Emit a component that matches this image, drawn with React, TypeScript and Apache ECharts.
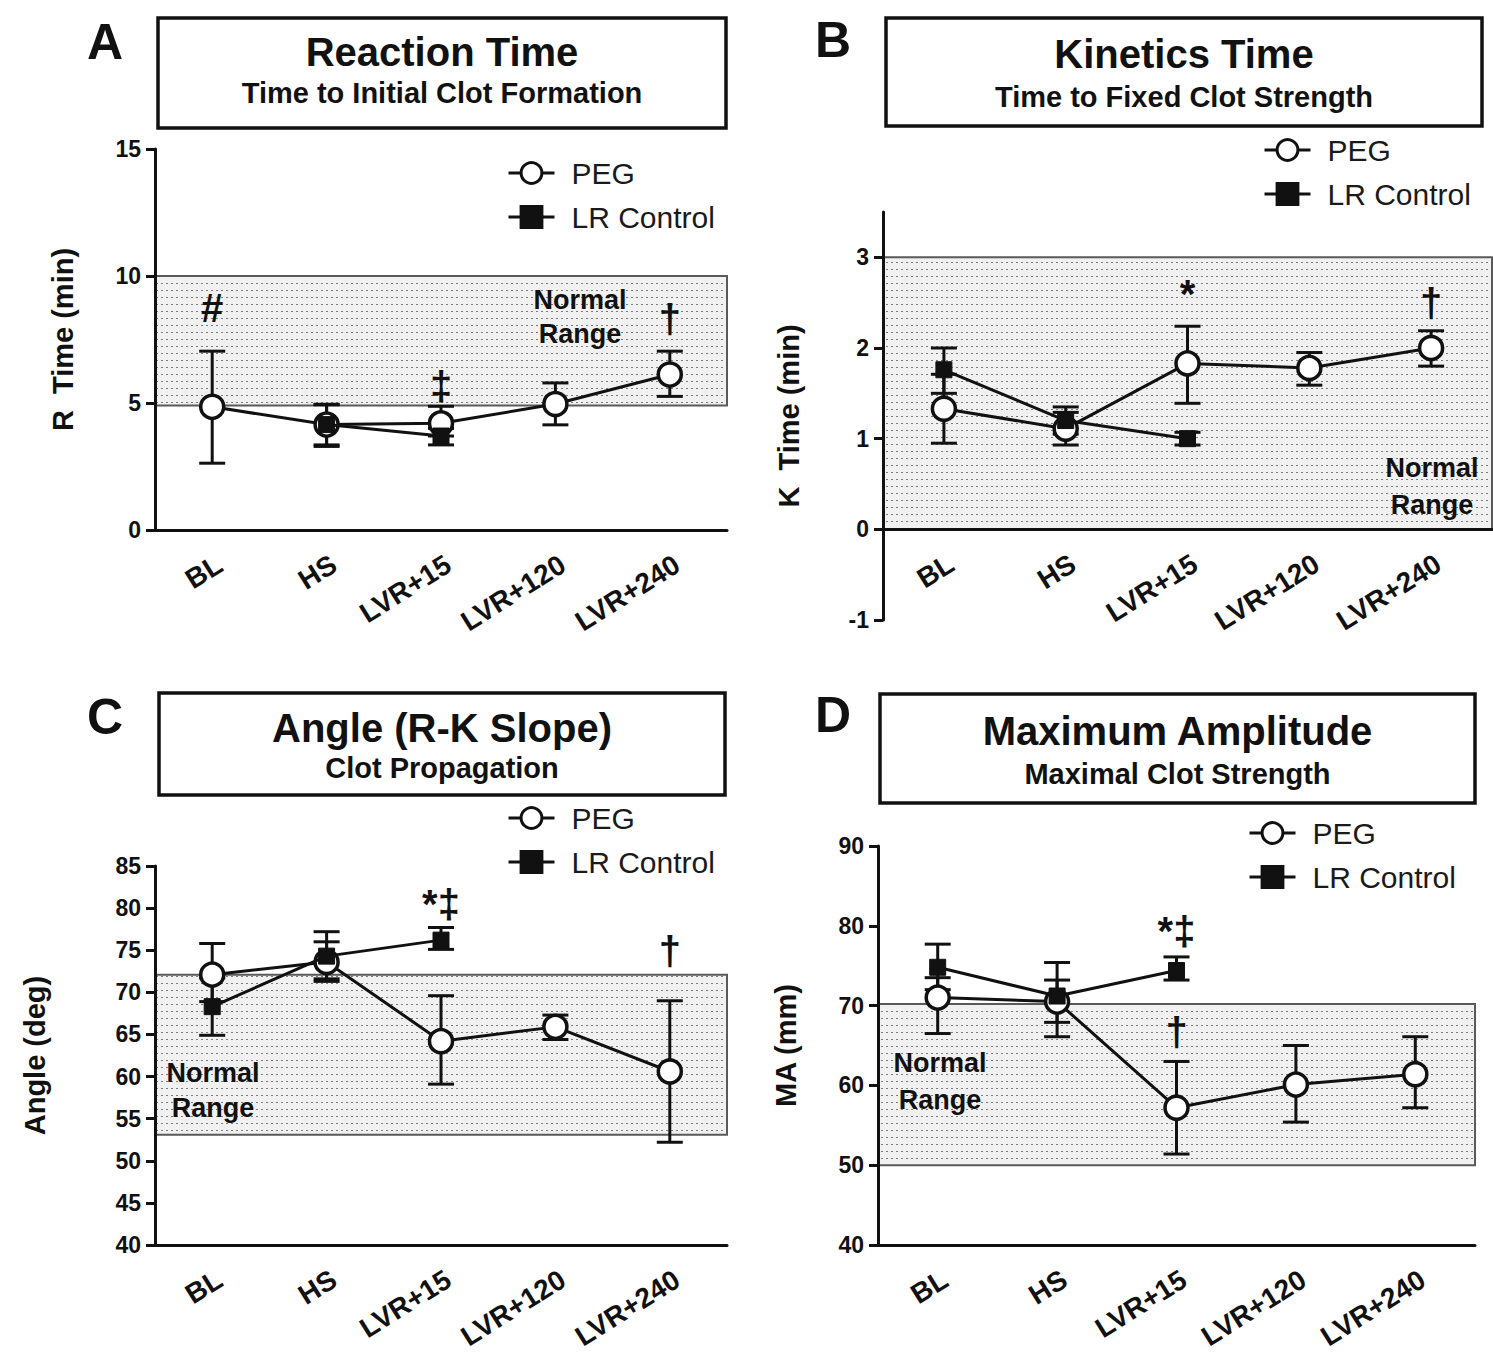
import React, { useEffect, useRef } from 'react';
import * as echarts from 'echarts';

const FONT = '"Liberation Sans", Arial, Helvetica, sans-serif';

const categories = ['BL', 'HS', 'LVR+15', 'LVR+120', 'LVR+240'];

// Panel A: Reaction Time (R, min)
const rPeg = [4.85, 4.15, 4.2, 4.96, 6.12];
const rPegLow = [2.63, 3.29, 3.7, 4.14, 5.26];
const rPegHigh = [7.04, 4.93, 4.87, 5.79, 7.04];
const rLr = [null, 4.15, 3.7, null, null];
const rLrLow = [null, 3.35, 3.35, null, null];
const rLrHigh = [null, 4.95, 4.0, null, null];
const rNormal = [4.9, 10];
const rMarkText = ['#', '‡', '†'];
const rMarkCat = [0, 2, 4];
const rMarkVal = [8.75, 5.66, 8.3];

// Panel B: Kinetics Time (K, min)
const kPeg = [1.33, 1.11, 1.83, 1.78, 2.0];
const kPegLow = [0.95, 0.93, 1.39, 1.59, 1.8];
const kPegHigh = [1.71, 1.29, 2.24, 1.95, 2.19];
const kLr = [1.76, 1.2, 1.0, null, null];
const kLrLow = [1.5, 1.05, 0.93, null, null];
const kLrHigh = [2.0, 1.35, 1.07, null, null];
const kNormal = [0, 3];
const kMarkText = ['*', '†'];
const kMarkCat = [2, 4];
const kMarkVal = [2.6, 2.5];

// Panel C: Angle (deg)
const aPeg = [72.1, 73.6, 64.2, 65.9, 60.6];
const aPegLow = [68.9, 71.3, 59.1, 64.4, 52.2];
const aPegHigh = [75.8, 76.0, 69.6, 67.3, 69.0];
const aLr = [68.3, 74.3, 76.2, null, null];
const aLrLow = [64.9, 71.6, 75.1, null, null];
const aLrHigh = [71.7, 77.2, 77.7, null, null];
const aNormal = [53.1, 72.1];
const aMarkText = ['*‡', '†'];
const aMarkCat = [2, 4];
const aMarkVal = [80.5, 74.9];

// Panel D: Maximum Amplitude (MA, mm)
const mPeg = [71.0, 70.5, 57.2, 60.1, 61.4];
const mPegLow = [66.5, 66.1, 51.4, 55.4, 57.2];
const mPegHigh = [73.5, 73.2, 63.0, 65.0, 66.1];
const mLr = [74.8, 71.2, 74.4, null, null];
const mLrLow = [72.0, 67.9, 73.2, null, null];
const mLrHigh = [77.7, 75.4, 76.1, null, null];
const mNormal = [50.0, 70.2];
const mMarkText = ['*‡', '†'];
const mMarkCat = [2, 2];
const mMarkVal = [79.4, 66.7];

const panelData = [
  { title: 'Reaction Time', sub: 'Time to Initial Clot Formation', letter: 'A', yName: 'R  Time (min)', peg: rPeg, pegLow: rPegLow, pegHigh: rPegHigh, lr: rLr, lrLow: rLrLow, lrHigh: rLrHigh, normal: rNormal, markText: rMarkText, markCat: rMarkCat, markVal: rMarkVal },
  { title: 'Kinetics Time', sub: 'Time to Fixed Clot Strength', letter: 'B', yName: 'K  Time (min)', peg: kPeg, pegLow: kPegLow, pegHigh: kPegHigh, lr: kLr, lrLow: kLrLow, lrHigh: kLrHigh, normal: kNormal, markText: kMarkText, markCat: kMarkCat, markVal: kMarkVal },
  { title: 'Angle (R-K Slope)', sub: 'Clot Propagation', letter: 'C', yName: 'Angle (deg)', peg: aPeg, pegLow: aPegLow, pegHigh: aPegHigh, lr: aLr, lrLow: aLrLow, lrHigh: aLrHigh, normal: aNormal, markText: aMarkText, markCat: aMarkCat, markVal: aMarkVal },
  { title: 'Maximum Amplitude', sub: 'Maximal Clot Strength', letter: 'D', yName: 'MA (mm)', peg: mPeg, pegLow: mPegLow, pegHigh: mPegHigh, lr: mLr, lrLow: mLrLow, lrHigh: mLrHigh, normal: mNormal, markText: mMarkText, markCat: mMarkCat, markVal: mMarkVal },
];

// Layout (pixels) and axis settings
const layouts = [
  { left: 155, top: 149, width: 572, height: 381, yMin: 0, yMax: 15, step: 5, ticks: null as number[] | null, nameGap: 78,
    letterPos: [105, 42], box: [158, 18, 568, 110], titleY: 52, subY: 93, legendPos: [502, 152],
    normalText: [[580, 300], [580, 334]] },
  { left: 883, top: 212, width: 609, height: 408, yMin: -1, yMax: 3.5, step: 1, ticks: [-1, 0, 1, 2, 3], nameGap: 80,
    letterPos: [833, 40], box: [886, 18, 596, 108], titleY: 54, subY: 97, legendPos: [1258, 129],
    normalText: [[1432, 468], [1432, 505]] },
  { left: 155, top: 866, width: 572, height: 379, yMin: 40, yMax: 85, step: 5, ticks: null, nameGap: 106,
    letterPos: [105, 717], box: [159, 693, 566, 102], titleY: 728, subY: 768, legendPos: [502, 797],
    normalText: [[213, 1073], [213, 1108]] },
  { left: 878, top: 846, width: 597, height: 399, yMin: 40, yMax: 90, step: 10, ticks: null, nameGap: 78,
    letterPos: [833, 715], box: [880, 694, 595, 109], titleY: 731, subY: 774, legendPos: [1243, 812],
    normalText: [[940, 1063], [940, 1100]] },
];

function errData(cats: number, low: (number | null)[], high: (number | null)[]) {
  const out: number[][] = [];
  for (let i = 0; i < cats; i++) {
    if (low[i] != null && high[i] != null) out.push([i, low[i] as number, high[i] as number]);
  }
  return out;
}

function makePattern() {
  const c = document.createElement('canvas');
  c.width = 5;
  c.height = 7;
  const ctx = c.getContext('2d');
  if (ctx) {
    ctx.fillStyle = '#f1f1f1';
    ctx.fillRect(0, 0, 5, 7);
    ctx.fillStyle = '#7c7c7c';
    ctx.fillRect(1, 3, 2, 1);
  }
  return { image: c, repeat: 'repeat', imageWidth: 5, imageHeight: 7 } as any;
}

export default function App() {
  const ref = useRef<HTMLDivElement>(null);
  useEffect(() => {
    document.body.style.margin = '0';
    if (!ref.current) return;
    const chart = echarts.init(ref.current, undefined, { renderer: 'svg' });
    const pattern = makePattern();

    const grids: any[] = [];
    const xAxes: any[] = [];
    const yAxes: any[] = [];
    const series: any[] = [];
    const legends: any[] = [];
    const graphics: any[] = [];

    const errRender = (params: any, api: any) => {
      const x = api.value(0);
      const lo = api.coord([x, api.value(1)]);
      const hi = api.coord([x, api.value(2)]);
      const cap = 13;
      const st = { stroke: '#111', lineWidth: 3 };
      return {
        type: 'group',
        children: [
          { type: 'line', shape: { x1: lo[0], y1: lo[1], x2: hi[0], y2: hi[1] }, style: st },
          { type: 'line', shape: { x1: lo[0] - cap, y1: lo[1], x2: lo[0] + cap, y2: lo[1] }, style: st },
          { type: 'line', shape: { x1: hi[0] - cap, y1: hi[1], x2: hi[0] + cap, y2: hi[1] }, style: st },
        ],
      };
    };

    panelData.forEach((p, i) => {
      const L = layouts[i];
      grids.push({ left: L.left, top: L.top, width: L.width, height: L.height, containLabel: false });
      // place the category axis at value 0 when 0 lies inside the value range
      const zeroOffset = L.yMin < 0 && L.yMax > 0 ? -((0 - L.yMin) / (L.yMax - L.yMin)) * L.height : 0;
      xAxes.push({
        type: 'category', gridIndex: i, data: categories, boundaryGap: true, z: 6,
        offset: zeroOffset,
        axisLine: { onZero: false, lineStyle: { color: '#111', width: 3 } },
        axisTick: { alignWithLabel: true, length: 9, lineStyle: { color: '#111', width: 3 } },
        axisLabel: { rotate: 32, margin: 20, verticalAlign: 'top', fontSize: 28, fontWeight: 'bold', fontFamily: FONT, color: '#111' },
        splitLine: { show: false },
      });
      const ya: any = {
        type: 'value', gridIndex: i, min: L.yMin, max: L.yMax, interval: L.step, z: 6,
        name: p.yName, nameLocation: 'middle', nameGap: L.nameGap,
        nameTextStyle: { fontSize: 29, fontWeight: 'bold', fontFamily: FONT, color: '#111' },
        axisLine: { show: true, onZero: false, lineStyle: { color: '#111', width: 3 } },
        axisTick: { show: true, length: 9, lineStyle: { color: '#111', width: 3 } },
        axisLabel: { margin: 14, fontSize: 23, fontWeight: 'bold', fontFamily: FONT, color: '#111' },
        splitLine: { show: false },
      };
      if (L.ticks) {
        ya.axisTick.customValues = L.ticks;
        ya.axisLabel.customValues = L.ticks;
      }
      yAxes.push(ya);

      // Normal range band (dummy line series holding markArea)
      series.push({
        type: 'line', name: 'Normal Range', xAxisIndex: i, yAxisIndex: i, data: [], silent: true,
        markArea: {
          silent: true, z: 1,
          itemStyle: { color: pattern, borderColor: '#5a5a5a', borderWidth: 2 },
          label: { show: false },
          data: [[{ yAxis: p.normal[0] }, { yAxis: p.normal[1] }]],
        },
      });
      // Error bars
      series.push({
        type: 'custom', name: 'PEG SEM', xAxisIndex: i, yAxisIndex: i, renderItem: errRender,
        encode: { x: 0, y: [1, 2] }, data: errData(categories.length, p.pegLow, p.pegHigh), z: 3, silent: true,
      });
      series.push({
        type: 'custom', name: 'LR SEM', xAxisIndex: i, yAxisIndex: i, renderItem: errRender,
        encode: { x: 0, y: [1, 2] }, data: errData(categories.length, p.lrLow, p.lrHigh), z: 3, silent: true,
      });
      // Means
      series.push({
        type: 'line', name: 'PEG', xAxisIndex: i, yAxisIndex: i, data: p.peg, z: 4,
        symbol: 'circle', symbolSize: 23, connectNulls: false,
        lineStyle: { color: '#111', width: 3 },
        itemStyle: { color: '#fff', borderColor: '#111', borderWidth: 3.5 },
      });
      series.push({
        type: 'line', name: 'LR Control', xAxisIndex: i, yAxisIndex: i, data: p.lr, z: 5,
        symbol: 'rect', symbolSize: 16, connectNulls: false,
        lineStyle: { color: '#111', width: 3 },
        itemStyle: { color: '#111', borderColor: '#111', borderWidth: 1 },
      });
      // Significance marks
      const markData = p.markCat.map((c, k) => [c, p.markVal[k]]);
      series.push({
        type: 'custom', name: 'marks', xAxisIndex: i, yAxisIndex: i, z: 6, silent: true,
        encode: { x: 0, y: 1 }, data: markData,
        renderItem: (params: any, api: any) => {
          const pt = api.coord([api.value(0), api.value(1)]);
          return {
            type: 'text', x: pt[0], y: pt[1],
            style: { text: p.markText[params.dataIndex], fill: '#111', fontSize: 40, fontWeight: 'bold', fontFamily: FONT, align: 'center', verticalAlign: 'middle' },
          };
        },
      });

      legends.push({
        left: L.legendPos[0], top: L.legendPos[1], orient: 'vertical', itemGap: 12, itemWidth: 46, itemHeight: 26,
        selectedMode: false, data: ['PEG', 'LR Control'],
        lineStyle: { width: 3, color: '#111' },
        itemStyle: { borderWidth: 3 },
        textStyle: { fontSize: 30, fontFamily: FONT, color: '#1a1a1a', lineHeight: 32, padding: [0, 0, 0, 12] },
      });

      const [bx, by, bw, bh] = L.box;
      graphics.push({ type: 'rect', shape: { x: bx, y: by, width: bw, height: bh }, style: { fill: '#fff', stroke: '#111', lineWidth: 3.5 }, z: 10 });
      graphics.push({ type: 'text', x: bx + bw / 2, y: L.titleY, z: 11, style: { text: p.title, fill: '#111', fontSize: 40, fontWeight: 'bold', fontFamily: FONT, align: 'center', verticalAlign: 'middle' } });
      graphics.push({ type: 'text', x: bx + bw / 2, y: L.subY, z: 11, style: { text: p.sub, fill: '#111', fontSize: 29, fontWeight: 'bold', fontFamily: FONT, align: 'center', verticalAlign: 'middle' } });
      graphics.push({ type: 'text', x: L.letterPos[0], y: L.letterPos[1], z: 11, style: { text: p.letter, fill: '#111', fontSize: 50, fontWeight: 'bold', fontFamily: FONT, align: 'center', verticalAlign: 'middle' } });
      graphics.push({ type: 'text', x: L.normalText[0][0], y: L.normalText[0][1], z: 11, style: { text: 'Normal', fill: '#111', fontSize: 27, fontWeight: 'bold', fontFamily: FONT, align: 'center', verticalAlign: 'middle' } });
      graphics.push({ type: 'text', x: L.normalText[1][0], y: L.normalText[1][1], z: 11, style: { text: 'Range', fill: '#111', fontSize: 27, fontWeight: 'bold', fontFamily: FONT, align: 'center', verticalAlign: 'middle' } });
    });

    chart.setOption({
      animation: false,
      backgroundColor: '#fff',
      textStyle: { fontFamily: FONT },
      grid: grids,
      xAxis: xAxes,
      yAxis: yAxes,
      legend: legends,
      series,
      graphic: graphics,
    });
    return () => chart.dispose();
  }, []);
  return <div ref={ref} style={{ width: 1493, height: 1356 }} />;
}
